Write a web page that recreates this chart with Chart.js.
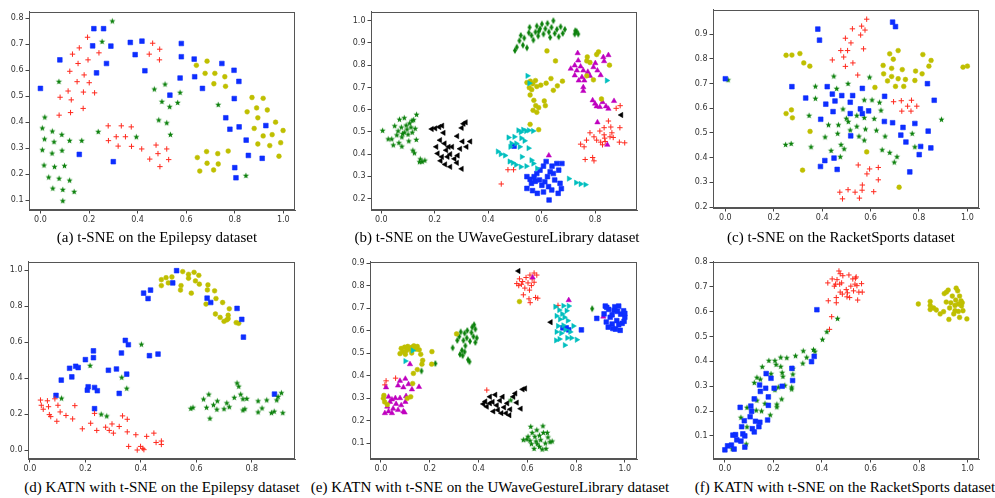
<!DOCTYPE html>
<html>
<head>
<meta charset="utf-8">
<script src="https://cdn.jsdelivr.net/npm/chart.js@4.4.1/dist/chart.umd.min.js"></script>
<style>
  body { margin: 0; background: #fff; width: 995px; height: 498px; overflow: hidden; position: relative; }
  canvas { position: absolute; }
  .cap { position: absolute; width: 420px; text-align: center; font-family: "Liberation Serif", serif; font-size: 15px; line-height: 17px; color: #000; white-space: nowrap; }
</style>
</head>
<body>
<canvas id="cA"></canvas><canvas id="cB"></canvas><canvas id="cC"></canvas>
<canvas id="cD"></canvas><canvas id="cE"></canvas><canvas id="cF"></canvas>
<div class="cap" style="left:-53px;top:229px">(a) t-SNE on the Epilepsy dataset</div>
<div class="cap" style="left:287px;top:229px">(b) t-SNE on the UWaveGestureLibrary dataset</div>
<div class="cap" style="left:631px;top:229px">(c) t-SNE on the RacketSports dataset</div>
<div class="cap" style="left:-48px;top:479px">(d) KATN with t-SNE on the Epilepsy dataset</div>
<div class="cap" style="left:280px;top:479px">(e) KATN with t-SNE on the UWaveGestureLibrary dataset</div>
<div class="cap" style="left:635px;top:479px">(f) KATN with t-SNE on the RacketSports dataset</div>
<script>
// ---- tick labels ----
const ticks0to10 = [0.0, 0.2, 0.4, 0.6, 0.8, 1.0];
const ticks0to08 = [0.0, 0.2, 0.4, 0.6, 0.8];
const ticksA_y = [0.1, 0.2, 0.3, 0.4, 0.5, 0.6, 0.7, 0.8];
const ticksB_y = [0.2, 0.3, 0.4, 0.5, 0.6, 0.7, 0.8, 0.9, 1.0];
const ticksC_y = [0.2, 0.3, 0.4, 0.5, 0.6, 0.7, 0.8, 0.9];
const ticksD_y = [0.0, 0.2, 0.4, 0.6, 0.8, 1.0];
const ticksE_y = [0.1, 0.2, 0.3, 0.4, 0.5, 0.6, 0.7, 0.8, 0.9];
const ticksF_y = [0.1, 0.2, 0.3, 0.4, 0.5, 0.6, 0.7, 0.8];

// ---- (a) t-SNE Epilepsy ----
const epiSquare = [[0.0,0.53],[0.08,0.64],[0.22,0.76],[0.26,0.76],[0.215,0.694],[0.29,0.693],[0.272,0.626],[0.231,0.59],[0.16,0.276],[0.30,0.248],[0.37,0.707],[0.418,0.712],[0.39,0.66],[0.43,0.598],[0.58,0.703],[0.58,0.652],[0.575,0.57],[0.533,0.504],[0.633,0.643],[0.635,0.575],[0.667,0.53],[0.747,0.626],[0.797,0.60],[0.817,0.557],[0.798,0.491],[0.763,0.417],[0.78,0.373],[0.818,0.382],[0.847,0.331],[0.856,0.272],[0.80,0.225],[0.805,0.186],[0.913,0.261],[0.928,0.387]];
const epiPlus = [[0.194,0.727],[0.16,0.686],[0.132,0.662],[0.241,0.667],[0.155,0.626],[0.196,0.64],[0.121,0.596],[0.18,0.582],[0.151,0.556],[0.201,0.552],[0.114,0.52],[0.177,0.516],[0.223,0.513],[0.081,0.496],[0.127,0.486],[0.176,0.453],[0.124,0.437],[0.077,0.427],[0.462,0.704],[0.491,0.681],[0.448,0.662],[0.49,0.64],[0.279,0.386],[0.333,0.386],[0.374,0.382],[0.28,0.329],[0.312,0.344],[0.35,0.344],[0.32,0.308],[0.375,0.307],[0.417,0.297],[0.476,0.312],[0.52,0.297],[0.484,0.279],[0.45,0.258],[0.528,0.256],[0.492,0.229]];
const epiStar = [[0.296,0.79],[0.254,0.711],[0.076,0.557],[0.018,0.42],[0.008,0.378],[0.017,0.336],[0.008,0.294],[0.015,0.235],[0.034,0.189],[0.049,0.366],[0.056,0.325],[0.048,0.281],[0.058,0.229],[0.088,0.353],[0.089,0.292],[0.099,0.233],[0.12,0.33],[0.17,0.33],[0.077,0.184],[0.12,0.177],[0.051,0.146],[0.092,0.141],[0.139,0.133],[0.092,0.098],[0.238,0.364],[0.395,0.344],[0.469,0.528],[0.513,0.547],[0.575,0.515],[0.5,0.48],[0.532,0.46],[0.565,0.476],[0.487,0.409],[0.52,0.398],[0.535,0.353],[0.732,0.468],[0.846,0.195]];
const epiCircle = [[0.642,0.619],[0.686,0.635],[0.678,0.588],[0.718,0.588],[0.759,0.575],[0.714,0.548],[0.762,0.538],[0.871,0.495],[0.917,0.492],[0.851,0.44],[0.89,0.455],[0.934,0.447],[0.895,0.417],[0.968,0.40],[0.999,0.368],[0.88,0.376],[0.917,0.347],[0.954,0.352],[0.895,0.316],[0.944,0.31],[0.989,0.321],[0.982,0.269],[0.646,0.264],[0.684,0.287],[0.73,0.279],[0.773,0.289],[0.686,0.242],[0.732,0.239],[0.656,0.212],[0.713,0.216]];

// ---- (b) t-SNE UWaveGestureLibrary ----
const uwStar = [[0.005,0.507],[0.026,0.469],[0.039,0.469],[0.045,0.442],[0.05,0.528],[0.063,0.505],[0.068,0.557],[0.075,0.522],[0.077,0.478],[0.077,0.436],[0.086,0.564],[0.086,0.499],[0.093,0.531],[0.096,0.513],[0.1,0.49],[0.103,0.46],[0.106,0.54],[0.111,0.522],[0.115,0.552],[0.121,0.555],[0.127,0.516],[0.131,0.466],[0.132,0.579],[0.118,0.418],[0.124,0.406],[0.146,0.379],[0.153,0.367],[0.163,0.373],[0.143,0.366],[0.058,0.487],[0.08,0.493],[0.116,0.499],[0.066,0.452]];
const uwLeft = [[0.189,0.513],[0.202,0.516],[0.217,0.522],[0.228,0.528],[0.233,0.496],[0.22,0.463],[0.206,0.433],[0.211,0.403],[0.222,0.37],[0.237,0.448],[0.243,0.418],[0.248,0.388],[0.239,0.354],[0.252,0.433],[0.258,0.4],[0.265,0.433],[0.274,0.379],[0.283,0.361],[0.286,0.394],[0.295,0.424],[0.284,0.481],[0.304,0.457],[0.308,0.537],[0.316,0.543],[0.319,0.433],[0.333,0.457],[0.301,0.334],[0.301,0.518],[0.258,0.343],[0.227,0.388],[0.898,0.576]];
const uwRight = [[0.436,0.412],[0.447,0.4],[0.476,0.475],[0.483,0.433],[0.463,0.394],[0.48,0.367],[0.492,0.361],[0.487,0.448],[0.498,0.478],[0.505,0.448],[0.513,0.507],[0.522,0.499],[0.531,0.51],[0.542,0.504],[0.552,0.507],[0.568,0.504],[0.524,0.472],[0.536,0.46],[0.518,0.433],[0.551,0.427],[0.526,0.388],[0.504,0.352],[0.522,0.343],[0.543,0.346],[0.562,0.373],[0.569,0.358],[0.583,0.336],[0.547,0.752],[0.554,0.719],[0.702,0.29],[0.729,0.272],[0.746,0.266],[0.764,0.263],[0.844,0.731]];
const uwSquare = [[0.497,0.436],[0.545,0.299],[0.557,0.287],[0.545,0.246],[0.562,0.269],[0.576,0.278],[0.582,0.313],[0.592,0.284],[0.594,0.328],[0.607,0.346],[0.601,0.26],[0.607,0.23],[0.584,0.224],[0.566,0.236],[0.617,0.367],[0.622,0.299],[0.626,0.254],[0.628,0.194],[0.638,0.239],[0.639,0.346],[0.644,0.313],[0.649,0.284],[0.657,0.358],[0.664,0.328],[0.669,0.269],[0.674,0.245],[0.676,0.358],[0.662,0.224],[0.612,0.276],[0.632,0.321],[0.572,0.299]];
const uwCircle = [[0.62,0.864],[0.652,0.819],[0.545,0.722],[0.558,0.728],[0.567,0.716],[0.554,0.699],[0.563,0.69],[0.577,0.731],[0.582,0.704],[0.557,0.666],[0.571,0.642],[0.578,0.618],[0.568,0.597],[0.582,0.588],[0.589,0.609],[0.61,0.639],[0.614,0.618],[0.597,0.71],[0.635,0.74],[0.617,0.719],[0.644,0.687],[0.659,0.707],[0.678,0.728],[0.557,0.534],[0.589,0.51],[0.771,0.837],[0.769,0.819],[0.781,0.812],[0.806,0.848],[0.813,0.86],[0.854,0.8],[0.769,0.752],[0.794,0.734],[0.824,0.648]];
const uwUp = [[0.735,0.854],[0.709,0.784],[0.724,0.799],[0.737,0.821],[0.732,0.776],[0.746,0.794],[0.756,0.776],[0.751,0.746],[0.76,0.731],[0.756,0.701],[0.756,0.684],[0.773,0.77],[0.781,0.752],[0.794,0.791],[0.801,0.809],[0.809,0.776],[0.821,0.755],[0.831,0.836],[0.85,0.845],[0.834,0.818],[0.739,0.731],[0.724,0.754],[0.791,0.642],[0.8,0.627],[0.806,0.615],[0.818,0.612],[0.828,0.634],[0.841,0.615],[0.85,0.604],[0.871,0.639],[0.809,0.543],[0.846,0.442],[0.627,0.394]];
const uwPlus = [[0.879,0.606],[0.894,0.618],[0.85,0.549],[0.834,0.519],[0.818,0.504],[0.859,0.522],[0.863,0.496],[0.781,0.496],[0.796,0.478],[0.834,0.487],[0.836,0.472],[0.856,0.478],[0.838,0.457],[0.821,0.454],[0.806,0.463],[0.868,0.475],[0.891,0.454],[0.911,0.451],[0.893,0.519],[0.746,0.445],[0.759,0.433],[0.768,0.463],[0.763,0.376],[0.791,0.385],[0.796,0.37],[0.828,0.442],[0.474,0.33],[0.495,0.33],[0.449,0.266]];
const uwDiamond = [[0.5,0.866],[0.507,0.881],[0.517,0.91],[0.522,0.934],[0.53,0.89],[0.535,0.922],[0.545,0.878],[0.555,0.97],[0.562,0.934],[0.569,0.913],[0.577,0.949],[0.582,0.976],[0.587,0.931],[0.594,0.964],[0.601,0.985],[0.607,0.94],[0.614,0.964],[0.622,0.988],[0.627,0.949],[0.632,0.925],[0.637,0.97],[0.644,1.0],[0.649,0.943],[0.657,0.961],[0.664,0.928],[0.671,0.973],[0.679,0.943],[0.687,0.961],[0.724,0.94],[0.731,0.952],[0.737,0.94],[0.726,0.955],[0.589,0.952],[0.552,0.946]];

// ---- (c) t-SNE RacketSports ----
const rsSquare = [[0.0,0.719],[0.382,0.92],[0.389,0.875],[0.691,0.948],[0.703,0.93],[0.275,0.687],[0.332,0.641],[0.421,0.687],[0.442,0.657],[0.453,0.629],[0.481,0.651],[0.415,0.616],[0.445,0.586],[0.516,0.624],[0.526,0.651],[0.516,0.578],[0.566,0.68],[0.558,0.597],[0.566,0.578],[0.592,0.589],[0.658,0.648],[0.394,0.555],[0.518,0.488],[0.657,0.546],[0.691,0.541],[0.734,0.522],[0.783,0.538],[0.725,0.491],[0.746,0.463],[0.835,0.699],[0.863,0.632],[0.838,0.507],[0.807,0.445],[0.849,0.439],[0.801,0.412],[0.762,0.342],[0.411,0.388],[0.449,0.398],[0.393,0.364],[0.462,0.352]];
const rsStar = [[0.011,0.715],[0.249,0.453],[0.272,0.457],[0.354,0.444],[0.346,0.571],[0.372,0.689],[0.372,0.64],[0.448,0.73],[0.46,0.68],[0.507,0.7],[0.486,0.597],[0.5,0.559],[0.508,0.546],[0.516,0.512],[0.543,0.527],[0.543,0.571],[0.574,0.634],[0.596,0.726],[0.606,0.634],[0.637,0.624],[0.643,0.592],[0.615,0.558],[0.574,0.562],[0.579,0.516],[0.552,0.487],[0.574,0.471],[0.624,0.511],[0.66,0.487],[0.426,0.533],[0.467,0.533],[0.464,0.498],[0.412,0.484],[0.478,0.453],[0.437,0.429],[0.491,0.436],[0.475,0.404],[0.648,0.432],[0.679,0.421],[0.709,0.404],[0.698,0.382],[0.772,0.498],[0.783,0.444],[0.893,0.555]];
const rsPlus = [[0.584,0.96],[0.525,0.921],[0.563,0.932],[0.577,0.916],[0.559,0.896],[0.496,0.883],[0.519,0.864],[0.477,0.833],[0.505,0.833],[0.571,0.84],[0.489,0.807],[0.442,0.795],[0.527,0.783],[0.496,0.769],[0.547,0.734],[0.695,0.626],[0.727,0.63],[0.769,0.632],[0.753,0.608],[0.791,0.608],[0.729,0.588],[0.767,0.588],[0.549,0.37],[0.596,0.354],[0.632,0.36],[0.585,0.334],[0.632,0.31],[0.566,0.289],[0.613,0.262],[0.473,0.26],[0.507,0.27],[0.536,0.26],[0.565,0.268],[0.484,0.233],[0.554,0.236]];
const rsCircle = [[0.251,0.814],[0.275,0.815],[0.308,0.821],[0.324,0.783],[0.349,0.77],[0.251,0.578],[0.273,0.593],[0.277,0.561],[0.35,0.506],[0.319,0.349],[0.584,0.423],[0.718,0.28],[0.618,0.684],[0.652,0.773],[0.654,0.739],[0.679,0.82],[0.694,0.798],[0.687,0.761],[0.67,0.71],[0.687,0.728],[0.703,0.688],[0.714,0.719],[0.714,0.833],[0.731,0.756],[0.737,0.688],[0.744,0.716],[0.786,0.75],[0.783,0.712],[0.813,0.739],[0.816,0.817],[0.841,0.77],[0.85,0.793],[0.982,0.766],[1.0,0.77]];

// ---- (d) KATN Epilepsy ----
const kEpiSquare = [[0.094,0.304],[0.113,0.389],[0.143,0.455],[0.151,0.407],[0.165,0.466],[0.174,0.459],[0.2,0.503],[0.229,0.552],[0.229,0.514],[0.207,0.333],[0.21,0.352],[0.233,0.348],[0.243,0.33],[0.233,0.23],[0.283,0.444],[0.312,0.451],[0.33,0.54],[0.344,0.61],[0.355,0.586],[0.349,0.422],[0.322,0.315],[0.41,0.873],[0.426,0.843],[0.435,0.89],[0.431,0.525],[0.462,0.534],[0.515,0.93],[0.529,0.998],[0.639,0.845],[0.652,0.821],[0.747,0.788],[0.764,0.727],[0.77,0.628],[0.882,0.311]];
const kEpiCircle = [[0.474,0.948],[0.474,0.915],[0.491,0.959],[0.499,0.93],[0.512,0.963],[0.551,0.993],[0.545,0.915],[0.543,0.89],[0.572,0.978],[0.572,0.956],[0.592,0.989],[0.597,0.941],[0.609,0.972],[0.611,0.923],[0.582,0.873],[0.642,0.919],[0.64,0.891],[0.666,0.886],[0.671,0.843],[0.635,0.812],[0.695,0.821],[0.669,0.757],[0.719,0.786],[0.686,0.738],[0.7,0.716],[0.715,0.731],[0.715,0.75],[0.744,0.709],[0.753,0.705],[0.71,0.724]];
const kEpiStar = [[0.402,0.589],[0.217,0.471],[0.331,0.405],[0.349,0.344],[0.114,0.289],[0.257,0.2],[0.277,0.19],[0.58,0.232],[0.588,0.238],[0.626,0.284],[0.645,0.311],[0.637,0.238],[0.649,0.177],[0.662,0.252],[0.676,0.274],[0.674,0.227],[0.7,0.23],[0.71,0.263],[0.719,0.241],[0.737,0.293],[0.747,0.374],[0.753,0.355],[0.76,0.311],[0.768,0.285],[0.768,0.223],[0.775,0.23],[0.782,0.287],[0.823,0.274],[0.823,0.212],[0.837,0.234],[0.854,0.279],[0.871,0.208],[0.881,0.216],[0.89,0.279],[0.895,0.298],[0.907,0.319],[0.912,0.208]];
const kEpiPlus = [[0.038,0.278],[0.041,0.249],[0.048,0.227],[0.063,0.274],[0.067,0.241],[0.07,0.197],[0.075,0.186],[0.09,0.285],[0.101,0.249],[0.109,0.212],[0.097,0.16],[0.13,0.192],[0.154,0.173],[0.162,0.247],[0.189,0.118],[0.219,0.149],[0.233,0.204],[0.241,0.109],[0.273,0.127],[0.286,0.109],[0.296,0.145],[0.301,0.094],[0.322,0.131],[0.334,0.19],[0.351,0.171],[0.351,0.101],[0.356,0.02],[0.382,0.085],[0.399,0.02],[0.387,0.0],[0.407,0.009],[0.411,0.002],[0.421,0.076],[0.447,0.094],[0.455,0.042],[0.474,0.031],[0.474,0.05]];

// ---- (e) KATN UWaveGestureLibrary ----
const kUwLeft = [[0.564,0.866],[0.696,0.638],[0.42,0.274],[0.434,0.262],[0.447,0.306],[0.458,0.283],[0.469,0.315],[0.475,0.268],[0.48,0.247],[0.488,0.289],[0.499,0.306],[0.505,0.259],[0.513,0.233],[0.518,0.277],[0.527,0.224],[0.53,0.25],[0.543,0.306],[0.551,0.321],[0.557,0.28],[0.573,0.253],[0.581,0.339],[0.591,0.343],[0.461,0.241],[0.447,0.277],[0.494,0.233],[0.428,0.285]];
const kUwStar = [[0.532,0.292],[0.614,0.174],[0.664,0.177],[0.603,0.13],[0.62,0.147],[0.631,0.13],[0.639,0.159],[0.65,0.135],[0.655,0.115],[0.666,0.147],[0.682,0.147],[0.693,0.106],[0.674,0.1],[0.65,0.085],[0.628,0.076],[0.617,0.097],[0.611,0.112],[0.598,0.118],[0.636,0.109],[0.661,0.073],[0.677,0.076],[0.685,0.127],[0.702,0.109],[0.641,0.097],[0.584,0.115]];
const kUwPlus = [[0.557,0.81],[0.568,0.831],[0.576,0.807],[0.581,0.819],[0.595,0.837],[0.603,0.813],[0.611,0.848],[0.62,0.831],[0.628,0.857],[0.639,0.848],[0.609,0.781],[0.59,0.79],[0.584,0.76],[0.607,0.742],[0.612,0.725],[0.634,0.748],[0.643,0.745],[0.565,0.801],[0.617,0.801],[0.628,0.816],[0.434,0.336],[0.021,0.377],[0.06,0.389],[0.016,0.359],[0.726,0.713]];
const kUwUp = [[0.622,0.837],[0.77,0.736],[0.912,0.663],[0.119,0.451],[0.021,0.348],[0.07,0.356],[0.078,0.377],[0.1,0.386],[0.113,0.362],[0.092,0.348],[0.156,0.35],[0.127,0.339],[0.016,0.233],[0.026,0.262],[0.037,0.283],[0.031,0.241],[0.045,0.233],[0.05,0.253],[0.062,0.274],[0.07,0.247],[0.078,0.3],[0.083,0.268],[0.092,0.241],[0.1,0.283],[0.103,0.309],[0.059,0.3],[0.045,0.294],[0.031,0.306],[0.097,0.236]];
const kUwCircle = [[0.568,0.73],[0.31,0.586],[0.209,0.507],[0.208,0.451],[0.083,0.521],[0.089,0.507],[0.097,0.527],[0.105,0.512],[0.11,0.53],[0.119,0.518],[0.127,0.527],[0.135,0.533],[0.144,0.518],[0.149,0.53],[0.157,0.515],[0.163,0.495],[0.078,0.498],[0.1,0.495],[0.126,0.501],[0.171,0.468],[0.168,0.451],[0.149,0.427],[0.133,0.41],[0.13,0.365],[0.122,0.306],[0.108,0.299],[0.01,0.299],[0.015,0.283],[0.012,0.312],[0.026,0.271]];
const kUwRight = [[0.13,0.512],[0.1,0.465],[0.715,0.707],[0.731,0.692],[0.743,0.675],[0.72,0.666],[0.734,0.651],[0.752,0.66],[0.761,0.689],[0.766,0.645],[0.748,0.624],[0.726,0.621],[0.72,0.595],[0.739,0.589],[0.756,0.604],[0.776,0.595],[0.789,0.621],[0.764,0.568],[0.781,0.568],[0.803,0.56],[0.732,0.563],[0.718,0.557],[0.754,0.536],[0.77,0.71],[0.748,0.711]];
const kUwSquare = [[0.746,0.613],[0.77,0.604],[0.76,0.613],[0.822,0.604],[0.885,0.655],[0.915,0.675],[0.92,0.71],[0.934,0.695],[0.94,0.66],[0.948,0.63],[0.956,0.69],[0.962,0.607],[0.967,0.645],[0.975,0.71],[0.983,0.674],[0.989,0.633],[0.995,0.689],[1.0,0.66],[0.932,0.616],[0.924,0.639],[0.951,0.61],[0.975,0.627],[0.997,0.642],[0.97,0.686],[0.948,0.671],[0.926,0.704],[0.981,0.602],[0.959,0.707],[1.0,0.677]];
const kUwDiamond = [[0.866,0.698],[0.166,0.421],[0.223,0.454],[0.294,0.524],[0.313,0.557],[0.321,0.574],[0.327,0.595],[0.332,0.513],[0.335,0.489],[0.343,0.506],[0.346,0.533],[0.352,0.568],[0.354,0.601],[0.357,0.471],[0.363,0.462],[0.365,0.553],[0.371,0.592],[0.374,0.616],[0.379,0.574],[0.382,0.627],[0.387,0.548],[0.393,0.568],[0.387,0.607],[0.343,0.589],[0.324,0.495],[0.338,0.557]];

// ---- (f) KATN RacketSports ----
const kRsSquare = [[0.0,0.044],[0.011,0.06],[0.027,0.063],[0.038,0.047],[0.033,0.103],[0.044,0.105],[0.049,0.084],[0.066,0.079],[0.074,0.108],[0.082,0.1],[0.069,0.137],[0.08,0.161],[0.063,0.215],[0.082,0.055],[0.104,0.177],[0.113,0.129],[0.121,0.116],[0.107,0.22],[0.11,0.199],[0.121,0.249],[0.126,0.159],[0.14,0.137],[0.144,0.155],[0.143,0.305],[0.146,0.279],[0.168,0.292],[0.17,0.351],[0.179,0.257],[0.179,0.223],[0.176,0.164],[0.19,0.332],[0.203,0.292],[0.236,0.3],[0.276,0.372],[0.279,0.323],[0.357,0.399],[0.368,0.42],[0.379,0.608]];
const kRsStar = [[0.464,0.573],[0.42,0.52],[0.402,0.489],[0.365,0.448],[0.371,0.441],[0.323,0.443],[0.337,0.417],[0.321,0.393],[0.291,0.423],[0.255,0.415],[0.23,0.417],[0.206,0.404],[0.211,0.388],[0.23,0.38],[0.181,0.404],[0.19,0.351],[0.154,0.379],[0.132,0.336],[0.146,0.329],[0.121,0.315],[0.236,0.356],[0.239,0.34],[0.28,0.372],[0.28,0.349],[0.275,0.297],[0.275,0.289],[0.247,0.304],[0.22,0.297],[0.206,0.286],[0.234,0.249],[0.214,0.228],[0.214,0.217],[0.165,0.231],[0.132,0.244],[0.091,0.215],[0.129,0.204],[0.151,0.201],[0.187,0.185],[0.066,0.175],[0.091,0.137],[0.088,0.068],[0.03,0.049]];
const kRsPlus = [[0.426,0.644],[0.44,0.58],[0.431,0.529],[0.424,0.716],[0.442,0.732],[0.456,0.711],[0.451,0.703],[0.462,0.729],[0.47,0.764],[0.475,0.753],[0.473,0.711],[0.481,0.716],[0.486,0.745],[0.475,0.679],[0.484,0.671],[0.459,0.657],[0.459,0.636],[0.511,0.748],[0.5,0.689],[0.505,0.676],[0.503,0.66],[0.514,0.657],[0.519,0.703],[0.527,0.732],[0.53,0.684],[0.538,0.735],[0.541,0.74],[0.536,0.711],[0.544,0.705],[0.547,0.647],[0.552,0.679],[0.563,0.713],[0.566,0.679]];
const kRsCircle = [[0.797,0.631],[0.846,0.641],[0.846,0.625],[0.846,0.609],[0.86,0.615],[0.871,0.607],[0.887,0.591],[0.901,0.6],[0.904,0.673],[0.913,0.679],[0.92,0.687],[0.912,0.639],[0.923,0.569],[0.926,0.615],[0.937,0.663],[0.943,0.591],[0.948,0.604],[0.951,0.647],[0.953,0.695],[0.959,0.684],[0.962,0.631],[0.962,0.601],[0.967,0.577],[0.967,0.663],[0.973,0.644],[0.975,0.623],[0.978,0.636],[0.981,0.604],[0.997,0.571],[0.948,0.625],[0.931,0.636]];

// colours (matplotlib short codes)
const BLUE = '#0d2eff', YEL = '#bfbf00', GRN = '#0a800a', RED = '#ff2a1f', CYA = '#00bfbf', MAG = '#bf00bf', BLK = '#000000';

// custom marker images for star and thin diamond
function starImg(color, r) {
    const s = Math.ceil(r * 2) + 2;
    const c = document.createElement('canvas');
    c.width = s; c.height = s;
    const g = c.getContext('2d');
    g.fillStyle = color;
    g.beginPath();
    for (let i = 0; i < 10; i++) {
        const a = -Math.PI / 2 + i * Math.PI / 5;
        const rr = i % 2 ? r * 0.42 : r;
        const px = s / 2 + Math.cos(a) * rr, py = s / 2 + 0.3 + Math.sin(a) * rr;
        if (i === 0) g.moveTo(px, py); else g.lineTo(px, py);
    }
    g.closePath();
    g.fill();
    return c;
}
function diamondImg(color, hw, hh) {
    const w = Math.ceil(hw * 2) + 2, h = Math.ceil(hh * 2) + 2;
    const c = document.createElement('canvas');
    c.width = w; c.height = h;
    const g = c.getContext('2d');
    g.fillStyle = color;
    g.beginPath();
    g.moveTo(w / 2, h / 2 - hh);
    g.lineTo(w / 2 + hw, h / 2);
    g.lineTo(w / 2, h / 2 + hh);
    g.lineTo(w / 2 - hw, h / 2);
    g.closePath();
    g.fill();
    return c;
}
const STAR = starImg(GRN, 3.2);
const DIAM = diamondImg(GRN, 2.0, 3.4);

const sq = { pointStyle: 'rect', pointRadius: 3.3, backgroundColor: BLUE, borderColor: BLUE, borderWidth: 0.6 };
const ci = { pointStyle: 'circle', pointRadius: 2.4, backgroundColor: YEL, borderColor: YEL, borderWidth: 0.5 };
const pl = { pointStyle: 'cross', pointRadius: 2.7, borderColor: RED, borderWidth: 1 };
const st = { pointStyle: STAR, pointRadius: 3 };
const dm = { pointStyle: DIAM, pointRadius: 3 };
const lt = { pointStyle: 'triangle', pointRotation: -90, pointRadius: 3.1, backgroundColor: BLK, borderColor: BLK, borderWidth: 0.5 };
const rt = { pointStyle: 'triangle', pointRotation: 90, pointRadius: 3.1, backgroundColor: CYA, borderColor: CYA, borderWidth: 0.5 };
const up = { pointStyle: 'triangle', pointRadius: 3.1, backgroundColor: MAG, borderColor: MAG, borderWidth: 0.5 };

function ds(points, style) {
    return Object.assign({ data: points.map(p => ({ x: p[0], y: p[1] })) }, style);
}

// draws the full axes frame like matplotlib spines
const framePlugin = {
    id: 'frame',
    afterDatasetsDraw(chart) {
        const a = chart.chartArea, ctx = chart.ctx;
        ctx.save();
        ctx.strokeStyle = '#555';
        ctx.lineWidth = 1;
        ctx.strokeRect(Math.round(a.left) + 0.5, Math.round(a.top) + 0.5, Math.round(a.right - a.left) - 1, Math.round(a.bottom - a.top) - 1);
        ctx.restore();
    }
};

const Y_W = 30, X_H = 20, PAD = 6;
function makeChart(id, box, xr, yr, xt, yt, datasets) {
    const cv = document.getElementById(id);
    const w = box[2] - box[0], h = box[3] - box[1];
    cv.style.left = (box[0] - Y_W) + 'px';
    cv.style.top = (box[1] - PAD) + 'px';
    cv.width = w + Y_W + PAD;
    cv.height = h + PAD + X_H;
    const tickFont = { family: 'DejaVu Sans', size: 8 };
    return new Chart(cv, {
        type: 'scatter',
        data: { datasets: datasets },
        options: {
            responsive: false,
            animation: false,
            devicePixelRatio: 1,
            layout: { padding: { top: PAD, right: PAD, left: 0, bottom: 0 } },
            plugins: { legend: { display: false }, tooltip: { enabled: false } },
            scales: {
                x: {
                    type: 'linear', min: xr[0], max: xr[1],
                    afterBuildTicks: s => { s.ticks = xt.map(v => ({ value: v })); },
                    afterFit: s => { s.height = X_H; },
                    grid: { drawOnChartArea: false, drawTicks: true, tickLength: 3.5, color: '#444' },
                    border: { display: true, color: '#555' },
                    ticks: { font: tickFont, color: '#333', padding: 2, maxRotation: 0, autoSkip: false, callback: v => v.toFixed(1) }
                },
                y: {
                    type: 'linear', min: yr[0], max: yr[1],
                    afterBuildTicks: s => { s.ticks = yt.map(v => ({ value: v })); },
                    afterFit: s => { s.width = Y_W; },
                    grid: { drawOnChartArea: false, drawTicks: true, tickLength: 3.5, color: '#444' },
                    border: { display: true, color: '#555' },
                    ticks: { font: tickFont, color: '#333', padding: 2, autoSkip: false, callback: v => v.toFixed(1) }
                }
            }
        },
        plugins: [framePlugin]
    });
}

makeChart('cA', [29, 11, 295, 210], [-0.047, 1.048], [0.062, 0.825], ticks0to10, ticksA_y,
    [ds(epiStar, st), ds(epiPlus, pl), ds(epiSquare, sq), ds(epiCircle, ci)]);
makeChart('cB', [371, 11, 637, 210], [-0.0385, 0.957], [0.149, 1.04], ticks0to08, ticksB_y,
    [ds(uwStar, st), ds(uwLeft, lt), ds(uwRight, rt), ds(uwSquare, sq), ds(uwCircle, ci), ds(uwUp, up), ds(uwPlus, pl), ds(uwDiamond, dm)]);
makeChart('cC', [713, 9, 979, 208], [-0.051, 1.048], [0.196, 0.998], ticks0to10, ticksC_y,
    [ds(rsSquare, sq), ds(rsStar, st), ds(rsPlus, pl), ds(rsCircle, ci)]);
makeChart('cD', [28, 261, 295, 459], [-0.007, 0.956], [-0.05, 1.0475], ticks0to08, ticksD_y,
    [ds(kEpiPlus, pl), ds(kEpiStar, st), ds(kEpiSquare, sq), ds(kEpiCircle, ci)]);
makeChart('cE', [370, 261, 637, 459], [-0.045, 1.05], [0.029, 0.907], ticks0to10, ticksE_y,
    [ds(kUwStar, st), ds(kUwLeft, lt), ds(kUwRight, rt), ds(kUwSquare, sq), ds(kUwCircle, ci), ds(kUwUp, up), ds(kUwPlus, pl), ds(kUwDiamond, dm)]);
makeChart('cF', [713, 261, 979, 459], [-0.049, 1.047], [0.007, 0.801], ticks0to10, ticksF_y,
    [ds(kRsSquare, sq), ds(kRsStar, st), ds(kRsPlus, pl), ds(kRsCircle, ci)]);
</script>
</body>
</html>
